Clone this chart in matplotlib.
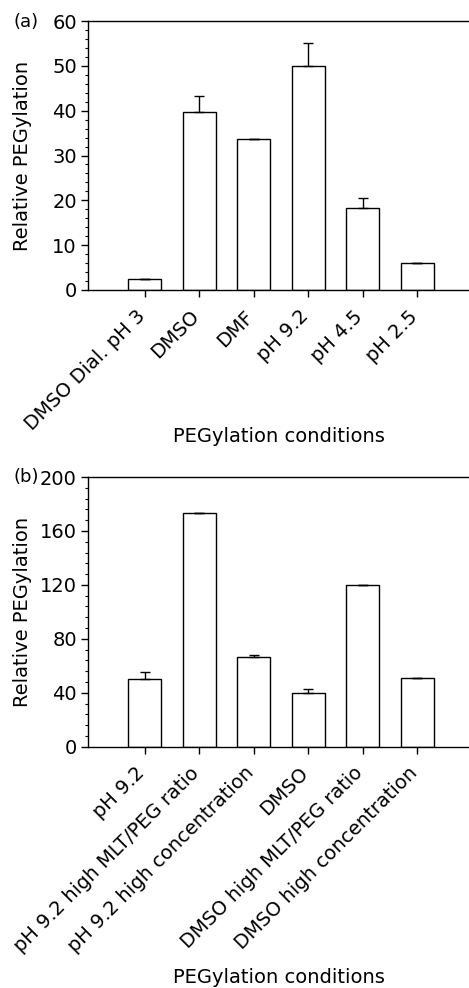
import matplotlib.pyplot as plt
import matplotlib.transforms as mtransforms
from matplotlib.ticker import MultipleLocator, AutoMinorLocator

plt.rcParams['font.family'] = ['DejaVu Sans']

# panel (a)
labels_a = ['DMSO Dial. pH 3', 'DMSO', 'DMF', 'pH 9.2', 'pH 4.5', 'pH 2.5']
values_a = [2.4, 39.7, 33.7, 49.9, 18.4, 6.1]
errors_a = [0, 3.6, 0, 5.2, 2.1, 0]

# panel (b)
labels_b = ['pH 9.2', 'pH 9.2 high MLT/PEG ratio', 'pH 9.2 high concentration',
            'DMSO', 'DMSO high MLT/PEG ratio', 'DMSO high concentration']
values_b = [50.0, 173.0, 66.8, 39.6, 120.0, 51.0]
errors_b = [5.2, 0, 1.2, 3.5, 0, 0]

fig = plt.figure(figsize=(4.69, 9.88), dpi=100)
ax1 = fig.add_axes([0.1876, 0.7065, 0.8124, 0.2722])
ax2 = fig.add_axes([0.1876, 0.2442, 0.8124, 0.2730])


def draw(ax, labels, values, errors, ymax, major, xlab_y):
    x = range(len(labels))
    ax.bar(x, values, width=0.6, color='white', edgecolor='black', linewidth=1)
    ax.errorbar(x, values, yerr=[[0] * len(errors), errors], fmt='none',
                ecolor='black', elinewidth=1, capsize=3.5, capthick=1)
    ax.set_xlim(-1.04, 5.95)
    ax.set_ylim(0, ymax)
    ax.yaxis.set_major_locator(MultipleLocator(major))
    ax.yaxis.set_minor_locator(AutoMinorLocator(5))
    ax.set_xticks(list(x))
    ax.set_xticklabels(labels, rotation=45, ha='right')
    ax.tick_params(axis='both', direction='out', length=5, width=1, labelsize=14, pad=3)
    ax.tick_params(axis='x', pad=7)
    ax.tick_params(axis='y', which='minor', direction='out', length=2.5, width=0.8)
    shift = mtransforms.ScaledTranslation(4 / 100, 0, fig.dpi_scale_trans)
    for lab in ax.get_xticklabels():
        lab.set_transform(lab.get_transform() + shift)
    ax.spines['right'].set_visible(False)
    for s in ['left', 'bottom', 'top']:
        ax.spines[s].set_linewidth(1)
    ax.set_ylabel('Relative PEGylation', fontsize=14, va='center')
    ax.yaxis.set_label_coords(-0.171, 0.5)
    ax.set_xlabel('PEGylation conditions', fontsize=14, va='center')
    ax.xaxis.set_label_coords(0.5, xlab_y)


draw(ax1, labels_a, values_a, errors_a, 60, 10, -0.546)
draw(ax2, labels_b, values_b, errors_b, 200, 40, -0.854)

fig.text(13 / 469, 1 - 22 / 988, '(a)', fontsize=13, ha='left', va='center')
fig.text(13 / 469, 1 - 477 / 988, '(b)', fontsize=13, ha='left', va='center')

fig.savefig('out.png', dpi=100)
